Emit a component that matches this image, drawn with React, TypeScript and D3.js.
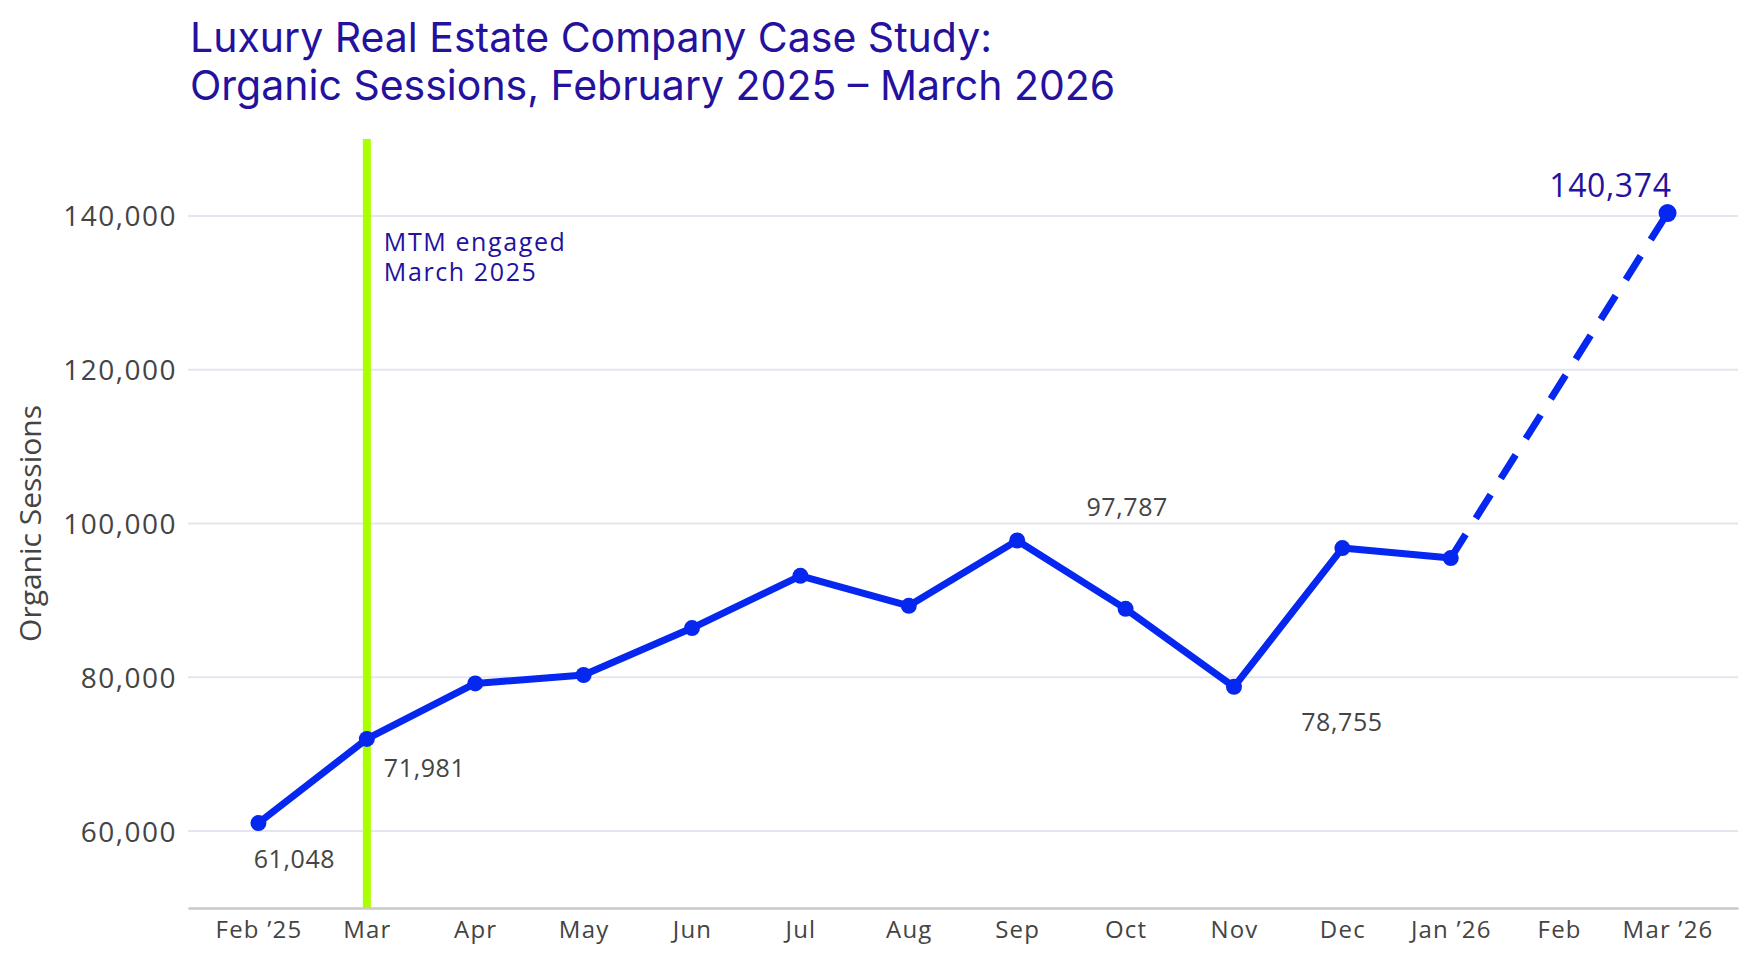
import React, { useEffect, useRef } from "react";
import * as d3 from "d3";

// months on the x axis
const months = [
  "Feb ’25",
  "Mar",
  "Apr",
  "May",
  "Jun",
  "Jul",
  "Aug",
  "Sep",
  "Oct",
  "Nov",
  "Dec",
  "Jan ’26",
  "Feb",
  "Mar ’26",
];

// organic sessions per month (Feb '26 has no value, the line is projected)
const sessions: (number | null)[] = [
  61048, 71981, 79200, 80300, 86400, 93200, 89300, 97787, 88900, 78755, 96800,
  95500, null, 140374,
];

// the dashed part starts at this month
const projectionStart = "Jan ’26";

const yTicks = [60000, 80000, 100000, 120000, 140000];
const yDomain = [50000, 150000];

// months whose value gets a text label
const labelledMonths = ["Feb ’25", "Mar", "Sep", "Nov", "Mar ’26"];

const engagedMonth = "Mar";
const engagedNote = ["MTM engaged", "March 2025"];

const titleLines = [
  "Luxury Real Estate Company Case Study:",
  "Organic Sessions, February 2025 – March 2026",
];

interface Point {
  month: string;
  value: number;
}

const App: React.FC = () => {
  const svgRef = useRef<SVGSVGElement | null>(null);

  useEffect(() => {
    const width = 1758;
    const height = 963;
    const margin = { top: 139, right: 20, bottom: 55, left: 188 };

    const blue = "#0527ef";
    const indigo = "#24119e";
    const gray = "#444";
    const labelFont = "'Open Sans', sans-serif";

    const svg = d3.select(svgRef.current);
    svg.selectAll("*").remove();
    svg.attr("width", width).attr("height", height);

    const xScale = d3
      .scalePoint<string>()
      .domain(months)
      .range([margin.left, width - margin.right])
      .padding(0.65);

    const yScale = d3
      .scaleLinear()
      .domain(yDomain)
      .range([height - margin.bottom, margin.top]);

    const points: Point[] = months
      .map((m, i) => ({ month: m, value: sessions[i] as number }))
      .filter((d) => sessions[months.indexOf(d.month)] != null);

    // ✅ 제목
    titleLines.forEach((line, i) => {
      svg
        .append("text")
        .attr("x", 190)
        .attr("y", 52 + i * 48)
        .style("font-family", "Inter, sans-serif")
        .style("font-size", "41px")
        .style("fill", indigo)
        .text(line);
    });

    // ✅ 가로 그리드
    svg
      .append("g")
      .selectAll("line")
      .data(yTicks)
      .enter()
      .append("line")
      .attr("x1", margin.left)
      .attr("x2", width - margin.right)
      .attr("y1", (d) => yScale(d))
      .attr("y2", (d) => yScale(d))
      .attr("stroke", "#e5e5ef")
      .attr("stroke-width", 2);

    // ✅ Y축 라벨
    const yAxis = svg
      .append("g")
      .attr("transform", `translate(${margin.left}, 0)`)
      .call(
        d3
          .axisLeft(yScale)
          .tickValues(yTicks)
          .tickSize(0)
          .tickPadding(11)
          .tickFormat((d) => d3.format(",")(d as number))
      );
    yAxis.select(".domain").remove();
    yAxis
      .selectAll("text")
      .attr("dy", "0.36em")
      .style("font-family", labelFont)
      .style("font-size", "28px")
      .style("letter-spacing", "1.5px")
      .style("fill", gray);

    svg
      .append("text")
      .attr("transform", `translate(41, ${yScale(100000)}) rotate(-90)`)
      .attr("text-anchor", "middle")
      .style("font-family", labelFont)
      .style("font-size", "30px")
      .style("fill", gray)
      .text("Organic Sessions");

    // ✅ X축
    const xAxis = svg
      .append("g")
      .attr("transform", `translate(0, ${height - margin.bottom})`)
      .call(d3.axisBottom(xScale).tickSize(0).tickPadding(13));
    xAxis.select(".domain").attr("stroke", "#c8c8c8").attr("stroke-width", 2.5);
    xAxis
      .selectAll("text")
      .style("font-family", labelFont)
      .style("font-size", "24px")
      .style("letter-spacing", "1.2px")
      .style("fill", gray);

    // ✅ MTM 시작 표시선
    const ex = xScale(engagedMonth)!;
    svg
      .append("line")
      .attr("x1", ex)
      .attr("x2", ex)
      .attr("y1", margin.top)
      .attr("y2", height - margin.bottom)
      .attr("stroke", "#aaff00")
      .attr("stroke-width", 8);

    engagedNote.forEach((line, i) => {
      svg
        .append("text")
        .attr("x", ex + 17)
        .attr("y", 251 + i * 30)
        .style("font-family", labelFont)
        .style("font-size", "25px")
        .style("letter-spacing", "1.6px")
        .style("fill", indigo)
        .text(line);
    });

    // ✅ 선
    const line = d3
      .line<Point>()
      .x((d) => xScale(d.month)!)
      .y((d) => yScale(d.value));

    const cut = months.indexOf(projectionStart);
    const actual = points.filter((d) => months.indexOf(d.month) <= cut);
    const projected = points.filter((d) => months.indexOf(d.month) >= cut);

    svg
      .append("path")
      .datum(actual)
      .attr("fill", "none")
      .attr("stroke", blue)
      .attr("stroke-width", 7)
      .attr("stroke-linejoin", "round")
      .attr("d", line);

    svg
      .append("path")
      .datum(projected)
      .attr("fill", "none")
      .attr("stroke", blue)
      .attr("stroke-width", 7)
      .attr("stroke-dasharray", "28 19")
      .attr("d", line);

    svg
      .append("g")
      .selectAll("circle")
      .data(points)
      .enter()
      .append("circle")
      .attr("cx", (d) => xScale(d.month)!)
      .attr("cy", (d) => yScale(d.value))
      .attr("r", (d, i) => (i === points.length - 1 ? 9 : 8))
      .attr("fill", blue);

    // ✅ 값 라벨 (위치는 원본처럼 점마다 따로)
    const offsets: Record<string, { dx: number; dy: number; anchor: string }> = {
      "Feb ’25": { dx: 36, dy: 45, anchor: "middle" },
      Mar: { dx: 17, dy: 38, anchor: "start" },
      Sep: { dx: 110, dy: -25, anchor: "middle" },
      Nov: { dx: 108, dy: 44, anchor: "middle" },
      "Mar ’26": { dx: 4, dy: -16, anchor: "end" },
    };
    const last = months[months.length - 1];

    svg
      .append("g")
      .selectAll("text")
      .data(points.filter((d) => labelledMonths.includes(d.month)))
      .enter()
      .append("text")
      .attr("x", (d) => xScale(d.month)! + offsets[d.month].dx)
      .attr("y", (d) => yScale(d.value) + offsets[d.month].dy)
      .attr("text-anchor", (d) => offsets[d.month].anchor)
      .style("font-family", labelFont)
      .style("font-size", (d) => (d.month === last ? "32px" : "25px"))
      .style("letter-spacing", "0.6px")
      .style("fill", (d) => (d.month === last ? indigo : gray))
      .text((d) => d3.format(",")(d.value));
  }, []);

  return (
    <div style={{ position: "absolute", left: 0, top: 0 }}>
      <svg ref={svgRef}></svg>
    </div>
  );
};

export default App;
